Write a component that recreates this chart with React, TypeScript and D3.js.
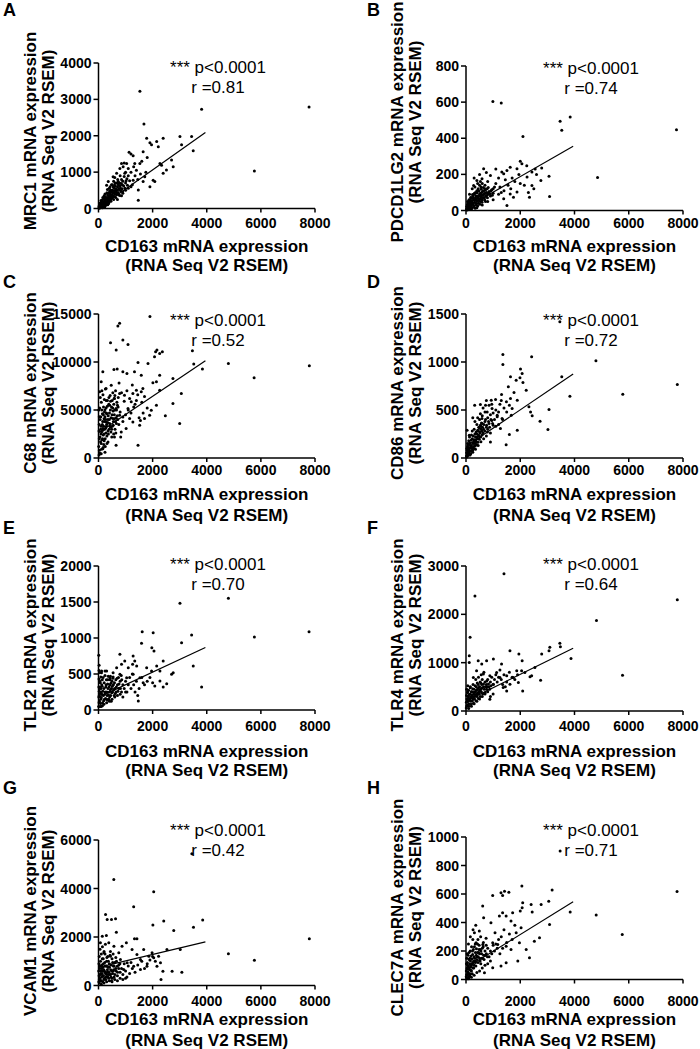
import * as d3 from "d3";

type Pt = [number, number];

// CD163 (x) vs. marker gene (y)
const panelLetters = ["A", "B", "C", "D", "E", "F", "G", "H"];
const geneNames = ["MRC1", "PDCD1LG2", "C68", "CD86", "TLR2", "TLR4", "VCAM1", "CLEC7A"];
const rValues = ["0.81", "0.74", "0.52", "0.72", "0.70", "0.64", "0.42", "0.71"];
const pText = "*** p<0.0001";

const xTicks = [0, 2000, 4000, 6000, 8000];
const yTicksA = [0, 1000, 2000, 3000, 4000];
const yTicksB = [0, 200, 400, 600, 800];
const yTicksC = [0, 5000, 10000, 15000];
const yTicksD = [0, 500, 1000, 1500];
const yTicksE = [0, 500, 1000, 1500, 2000];
const yTicksF = [0, 1000, 2000, 3000];
const yTicksG = [0, 2000, 4000, 6000];
const yTicksH = [0, 200, 400, 600, 800, 1000];

// regression line end points [x0, y0, x1, y1]
const fitA = [0, 10, 3950, 2090];
const fitB = [0, 15, 3950, 356];
const fitC = [0, 2620, 3950, 10120];
const fitD = [0, 120, 3950, 874];
const fitE = [0, 175, 3950, 867];
const fitF = [0, 205, 3950, 1300];
const fitG = [0, 750, 3950, 1800];
const fitH = [0, 80, 3950, 545];

const mrc1Points: Pt[] = [
  [1530, 3220], [3810, 2730], [7780, 2790], [1680, 2320], [5760, 1030], [3440, 1980], [3010, 1980],
  [3070, 1750], [3500, 1590], [2390, 1930], [1780, 1930], [1960, 1750], [2150, 1840], [1900, 1810],
  [2210, 1700], [1130, 1545], [1200, 1500], [1280, 1450], [1650, 1560], [1530, 1240], [1340, 1240],
  [2270, 1240], [2330, 1190], [2390, 970], [2510, 1060], [2700, 1330], [2760, 1150], [2020, 780],
  [1900, 600], [2080, 740], [1710, 870], [1650, 740], [1470, 230], [1470, 510], [1280, 780], [1040, 1240],
  [910, 1150], [790, 1100], [850, 1240], [970, 970], [670, 970], [540, 870], [730, 740], [300, 640],
  [360, 740], [50, 30], [80, 60], [100, 100], [120, 50], [150, 120], [180, 90], [200, 150], [220, 200],
  [250, 130], [270, 250], [300, 180], [320, 300], [350, 220], [380, 350], [400, 280], [420, 400],
  [450, 320], [480, 450], [500, 380], [520, 500], [550, 420], [580, 560], [600, 480], [620, 620],
  [650, 520], [680, 400], [700, 600], [720, 680], [750, 550], [780, 700], [800, 620], [820, 480],
  [850, 800], [880, 650], [900, 750], [950, 880], [1000, 700], [1050, 820], [1100, 900], [1150, 760],
  [1200, 1000], [160, 300], [240, 400], [330, 520], [430, 600], [260, 80], [380, 150], [460, 200],
  [560, 250], [640, 300], [740, 380], [900, 420], [1000, 500], [1100, 560], [130, 200], [60, 150],
  [90, 220], [210, 350], [310, 430], [410, 480], [510, 650], [610, 700], [710, 800], [30, 80], [140, 20],
  [230, 40], [340, 100], [700, 250], [850, 350], [1250, 650], [1350, 900], [1400, 1050], [1300, 1150],
  [1600, 1300], [1800, 1400], [1750, 1000], [1550, 950], [1450, 800], [1200, 600], [1100, 1100],
  [1000, 1000], [950, 1250], [800, 900], [600, 850], [480, 650], [400, 560], [560, 750],
];
const mrc1Cluster: Pt[] = [
  [15, 40], [35, 10], [45, 90], [65, 25], [75, 130], [95, 45], [105, 170], [115, 85], [135, 60], [145, 240],
  [165, 110], [175, 35], [190, 180], [205, 70], [215, 260], [235, 150], [245, 320], [265, 190], [285, 110],
  [295, 290], [315, 160], [335, 370], [345, 240], [365, 130], [375, 280], [395, 430], [405, 200], [425, 330],
  [445, 250], [455, 510], [475, 370], [495, 290], [505, 470], [525, 350], [545, 590], [565, 440], [585, 330],
  [595, 640], [615, 390], [635, 540], [655, 460], [675, 700], [695, 510], [725, 440], [745, 640], [765, 520],
  [785, 360], [810, 560], [835, 690], [870, 540], [890, 460], [930, 620], [980, 560], [1020, 760], [1070, 640],
];

const pdcd1lg2Points: Pt[] = [
  [990, 604], [1300, 595], [3470, 494], [3840, 518], [3530, 444], [7760, 447], [2100, 410], [4850, 183],
  [3080, 78], [2340, 74], [2430, 139], [2760, 166], [2790, 235], [3060, 190], [2060, 259], [2000, 272],
  [2240, 248], [2430, 213], [1880, 231], [1510, 222], [1630, 240], [1390, 203], [1320, 213], [900, 194],
  [650, 231], [590, 176], [400, 166], [280, 139], [1510, 28], [1390, 65], [1630, 92], [1880, 102],
  [1750, 74], [2250, 185], [2000, 150], [2600, 200], [1700, 180], [1450, 170], [1200, 180], [1100, 150],
  [800, 160], [700, 120], [1250, 130], [1550, 140], [1800, 160], [2150, 140], [2500, 120], [2300, 100],
  [1950, 200], [1650, 120], [1400, 110], [1000, 120], [850, 100], [2550, 230], [1100, 230], [750, 210],
  [500, 200], [300, 180], [50, 10], [80, 20], [100, 5], [120, 30], [150, 15], [180, 40], [200, 25],
  [220, 50], [250, 35], [280, 60], [300, 20], [320, 45], [350, 70], [380, 30], [400, 55], [420, 80],
  [450, 40], [480, 65], [500, 90], [520, 50], [550, 75], [580, 100], [600, 60], [620, 85], [650, 110],
  [680, 70], [700, 95], [720, 50], [750, 80], [780, 120], [800, 90], [850, 105], [900, 80], [950, 115],
  [1000, 95], [1050, 130], [150, 60], [250, 80], [350, 100], [450, 120], [550, 130], [100, 40], [200, 70],
  [300, 90], [400, 110], [500, 140], [600, 150], [700, 140], [200, 5], [400, 15], [600, 30], [800, 50],
  [1000, 60], [1200, 90], [1300, 100], [60, 50], [130, 90], [230, 120], [330, 130], [430, 150], [530, 160],
];
const pdcd1lg2Cluster: Pt[] = [
  [15, 8], [25, 22], [40, 3], [55, 35], [70, 12], [85, 45], [95, 28], [110, 60], [125, 18], [135, 48],
  [160, 8], [170, 72], [190, 30], [210, 55], [230, 15], [240, 88], [260, 42], [270, 68], [290, 28], [310, 95],
  [330, 58], [340, 12], [360, 82], [370, 40], [390, 65], [410, 98], [430, 25], [440, 72], [460, 55], [470, 108],
  [490, 80], [510, 35], [530, 95], [540, 62], [560, 118], [570, 85], [590, 45], [610, 105], [630, 72],
  [640, 128], [660, 90], [690, 58], [710, 112], [730, 82], [760, 100], [790, 70], [820, 128], [870, 92],
  [920, 110], [970, 84],
];

const c68Points: Pt[] = [
  [1900, 14750], [780, 14030], [716, 13750], [900, 12290], [1090, 11830], [444, 12010], [654, 11240],
  [2110, 11070], [2360, 11070], [2260, 10890], [2160, 11240], [3470, 11170], [3520, 9780], [3840, 9260],
  [4800, 9850], [5750, 8350], [7790, 9610], [1460, 9950], [1830, 9850], [2070, 10550], [160, 8980],
  [570, 9220], [690, 9260], [900, 8980], [1050, 8810], [1330, 8980], [1580, 8630], [2750, 8280],
  [2260, 8630], [2140, 7940], [2010, 7830], [2260, 7070], [1580, 6890], [1640, 7240], [3060, 6720],
  [2750, 5670], [2470, 4390], [3000, 3590], [1950, 4980], [1700, 4110], [1520, 3410], [1890, 4460],
  [1460, 1320], [650, 1320], [2140, 5500], [100, 7940], [40, 6890], [280, 7240], [470, 7590], [590, 6200],
  [780, 6720], [960, 6540], [1210, 5850], [1270, 6720], [1400, 7070], [1090, 5150], [780, 4460],
  [530, 4110], [280, 3760], [160, 3060], [220, 4800], [410, 5500], [650, 5150], [900, 4280], [1150, 4110],
  [1270, 3760], [1020, 3060], [840, 2710], [590, 2190], [350, 1670], [160, 970], [100, 450], [50, 500],
  [100, 1500], [80, 3000], [150, 2000], [200, 2500], [250, 1200], [300, 3500], [350, 2800], [400, 4000],
  [450, 3200], [500, 4500], [550, 3800], [600, 5000], [650, 4200], [700, 5500], [750, 3500], [800, 4800],
  [30, 2000], [60, 4000], [120, 5000], [180, 4500], [220, 3800], [280, 5200], [330, 6000], [380, 5600],
  [430, 6500], [480, 5300], [530, 6800], [580, 6200], [630, 7000], [680, 5800], [730, 6300], [160, 2900],
  [210, 1800], [260, 3100], [310, 2300], [360, 4400], [410, 3600], [460, 2700], [510, 3300], [560, 2500],
  [610, 3000], [660, 3600], [710, 4000], [110, 900], [170, 1100], [240, 600], [20, 300], [90, 2500],
  [140, 3500], [190, 3300], [240, 4300], [290, 4700], [340, 3700], [390, 3000], [440, 5000], [490, 2200],
  [540, 4900], [590, 4100], [640, 2600], [900, 3800], [1000, 4500], [1100, 5000], [1200, 4700],
  [1300, 5300], [1400, 6000], [1500, 4200], [1600, 5800], [1700, 6400], [1800, 5200], [950, 5900],
  [1050, 7000], [1150, 6200], [1250, 7600], [1350, 5600], [1450, 6600], [1550, 3900], [1650, 4700],
  [850, 6800], [760, 7800], [820, 2200],
];
const c68Cluster: Pt[] = [
  [10, 1200], [25, 3500], [35, 800], [45, 5200], [55, 2200], [65, 6300], [75, 1700], [85, 4300], [95, 3300],
  [105, 5800], [115, 2700], [125, 7000], [135, 1900], [145, 4600], [155, 3800], [165, 6600], [175, 2400],
  [185, 5300], [195, 1400], [205, 4100], [215, 6100], [225, 3000], [235, 5000], [245, 2000], [255, 7200],
  [265, 4000], [275, 2600], [285, 6000], [295, 3300], [305, 4600], [315, 1500], [325, 5400], [345, 4000],
  [365, 2500], [385, 6300], [405, 4700], [425, 3300], [445, 5900], [465, 4200], [485, 3000], [505, 6000],
  [525, 5200], [545, 3400], [565, 5600], [585, 4500], [605, 6500], [625, 3800], [665, 5000], [695, 4400],
  [725, 5300], [12, 5000], [18, 2800], [28, 4300],
];

const cd86Points: Pt[] = [
  [1360, 1079], [1360, 975], [2420, 1055], [4790, 1013], [5780, 665], [7790, 766], [3830, 644],
  [3530, 846], [3460, 1420], [3060, 505], [3020, 296], [2730, 383], [2010, 926], [2070, 880], [1990, 835],
  [2100, 787], [2220, 707], [2320, 533], [2440, 439], [2380, 480], [1640, 846], [1850, 811], [1560, 741],
  [1770, 682], [1890, 602], [1640, 620], [1490, 585], [1700, 515], [1670, 445], [1600, 244], [1480, 139],
  [1890, 289], [1310, 661], [1090, 609], [930, 602], [720, 550], [530, 557], [320, 550], [250, 418],
  [590, 411], [780, 480], [960, 515], [1150, 445], [1330, 411], [1270, 306], [900, 167], [40, 289],
  [120, 237], [50, 30], [80, 60], [100, 90], [120, 40], [150, 110], [180, 70], [200, 130], [220, 100],
  [250, 160], [280, 120], [300, 190], [320, 150], [350, 220], [380, 170], [400, 250], [420, 200],
  [450, 280], [480, 230], [500, 310], [520, 260], [550, 330], [580, 280], [600, 360], [650, 300],
  [700, 380], [750, 320], [800, 420], [850, 360], [900, 450], [950, 390], [1000, 470], [1050, 400],
  [1100, 500], [1150, 430], [1200, 480], [100, 180], [200, 240], [300, 300], [400, 350], [500, 400],
  [600, 440], [700, 480], [800, 300], [900, 260], [1000, 340], [150, 30], [250, 60], [350, 90], [450, 130],
  [550, 170], [650, 200], [750, 230], [30, 100], [60, 150], [130, 220], [230, 280], [330, 380], [430, 420],
  [530, 460], [630, 520], [1250, 560], [1300, 600], [1400, 520], [1500, 480], [1600, 550], [1350, 400],
  [1200, 350], [1100, 330], [850, 550], [950, 560], [750, 600],
];
const cd86Cluster: Pt[] = [
  [15, 20], [25, 55], [35, 10], [45, 80], [55, 40], [65, 115], [75, 25], [85, 70], [95, 140], [105, 50],
  [115, 100], [135, 160], [145, 75], [165, 130], [175, 45], [190, 185], [210, 110], [230, 200], [240, 80],
  [260, 150], [270, 230], [290, 100], [310, 170], [330, 250], [340, 125], [360, 190], [370, 270], [390, 140],
  [410, 220], [430, 290], [440, 165], [460, 240], [470, 320], [490, 195], [510, 270], [530, 340], [540, 220],
  [560, 300], [570, 365], [590, 240], [610, 320], [630, 260], [660, 350], [690, 280], [720, 400], [760, 340],
  [790, 270], [830, 380], [870, 320], [920, 400], [980, 360],
];

const tlr2Points: Pt[] = [
  [10, 759], [3010, 1481], [4800, 1551], [5760, 1014], [7780, 1088], [3440, 1042], [3070, 935],
  [3500, 611], [3810, 319], [1615, 1088], [2020, 1074], [1590, 926], [1970, 866], [2050, 819], [790, 773],
  [1280, 750], [1260, 634], [1410, 611], [1340, 681], [2700, 495], [2760, 519], [2390, 681], [2150, 611],
  [2270, 542], [2270, 403], [2390, 319], [2080, 333], [2520, 366], [1960, 542], [1780, 588], [970, 681],
  [1100, 588], [850, 634], [670, 588], [540, 519], [300, 542], [110, 519], [420, 449], [790, 495],
  [1040, 449], [1280, 495], [1530, 449], [1650, 380], [1470, 125], [20, 100], [30, 200], [40, 300],
  [50, 400], [20, 550], [60, 50], [80, 150], [100, 250], [120, 350], [150, 100], [180, 200], [200, 300],
  [220, 150], [250, 250], [280, 350], [300, 100], [320, 200], [350, 300], [380, 150], [400, 250],
  [420, 350], [450, 200], [480, 300], [500, 400], [520, 250], [550, 350], [580, 200], [600, 300],
  [650, 250], [700, 350], [750, 300], [800, 400], [850, 250], [900, 350], [950, 300], [1000, 400],
  [1050, 250], [1100, 350], [1150, 450], [1200, 300], [100, 50], [200, 80], [300, 150], [400, 120],
  [500, 150], [600, 180], [700, 200], [800, 220], [900, 180], [1000, 250], [60, 320], [140, 420],
  [240, 480], [340, 420], [440, 470], [540, 460], [640, 420], [740, 450], [840, 480], [1300, 350],
  [1400, 400], [1500, 300], [1600, 450], [1700, 350], [1800, 400], [1250, 500], [1350, 250], [1450, 200],
  [1900, 450], [2000, 380],
];
const tlr2Cluster: Pt[] = [
  [8, 50], [12, 180], [15, 320], [18, 430], [22, 620], [28, 260], [35, 120], [45, 520], [55, 230], [65, 380],
  [75, 90], [85, 460], [95, 300], [105, 170], [115, 540], [125, 220], [135, 330], [145, 60], [160, 260],
  [170, 450], [190, 130], [210, 380], [230, 220], [240, 540], [260, 160], [270, 320], [290, 420], [310, 250],
  [330, 140], [340, 360], [360, 470], [370, 210], [390, 320], [410, 180], [430, 420], [440, 280], [460, 370],
  [470, 120], [490, 240], [510, 330], [530, 440], [560, 280], [590, 380], [620, 230], [660, 320], [690, 440],
  [720, 260], [760, 360], [810, 300], [860, 420],
];

const tlr4Points: Pt[] = [
  [1400, 2841], [330, 2377], [150, 1525], [120, 1143], [120, 1005], [4810, 1871], [7790, 2300],
  [5770, 741], [3870, 1088], [3460, 1400], [3480, 1331], [3090, 1317], [3060, 1247], [2790, 1178],
  [2750, 638], [2540, 901], [2420, 728], [2360, 707], [1950, 1178], [2070, 1040], [1620, 1247],
  [1310, 970], [1010, 1074], [760, 1040], [450, 1040], [580, 970], [2050, 832], [2170, 797], [1870, 832],
  [1740, 693], [1930, 589], [2090, 416], [1620, 554], [1500, 728], [1130, 797], [1010, 554], [1370, 485],
  [880, 243], [390, 832], [270, 693], [640, 763], [880, 728], [1250, 693], [1500, 416], [30, 100],
  [50, 200], [80, 300], [100, 150], [120, 250], [150, 350], [180, 200], [200, 300], [220, 400], [250, 250],
  [280, 350], [300, 450], [320, 300], [350, 400], [380, 500], [400, 350], [420, 450], [450, 550],
  [480, 400], [500, 500], [520, 600], [550, 450], [580, 550], [600, 650], [650, 500], [700, 600],
  [750, 550], [800, 650], [850, 500], [900, 600], [950, 700], [1000, 550], [1050, 650], [1100, 750],
  [1150, 600], [1200, 700], [100, 50], [200, 100], [300, 150], [400, 200], [500, 250], [600, 300],
  [700, 350], [800, 400], [900, 300], [1000, 350], [60, 400], [160, 500], [260, 550], [360, 650],
  [460, 700], [560, 750], [660, 800], [760, 450], [1300, 650], [1400, 750], [1500, 600], [1600, 800],
  [1700, 700], [1800, 650], [1250, 850], [1350, 550], [1450, 500], [1900, 750],
];
const tlr4Cluster: Pt[] = [
  [10, 60], [15, 180], [20, 320], [25, 450], [35, 250], [45, 120], [55, 380], [65, 520], [75, 200], [85, 300],
  [95, 430], [110, 100], [125, 340], [140, 220], [155, 480], [170, 280], [185, 140], [195, 400], [215, 330],
  [235, 210], [245, 460], [265, 300], [275, 160], [295, 390], [315, 250], [335, 520], [345, 340], [365, 210],
  [385, 430], [405, 300], [415, 580], [435, 380], [455, 260], [465, 480], [485, 350], [505, 430], [525, 300],
  [545, 580], [565, 400], [595, 480], [615, 350], [645, 560], [675, 450], [705, 380], [735, 500], [765, 620],
  [795, 500], [830, 560], [870, 450], [920, 520],
];

const vcam1Points: Pt[] = [
  [565, 4374], [2040, 3865], [1300, 3246], [2010, 2490], [2410, 2655], [2780, 2270], [3510, 2407],
  [3850, 2696], [7790, 1926], [4800, 1307], [5760, 1045], [3450, 5430], [260, 2930], [320, 2724],
  [480, 2724], [630, 2751], [660, 2200], [290, 2063], [1030, 1761], [1330, 1926], [1420, 1926],
  [870, 1623], [750, 1348], [1240, 1486], [1420, 1279], [1550, 1073], [1670, 1486], [1860, 1210],
  [2040, 1142], [2220, 1210], [2530, 1486], [2290, 935], [1980, 1348], [2160, 798], [2380, 591],
  [2720, 591], [3080, 550], [2310, 248], [3020, 1486], [140, 2036], [70, 1761], [200, 1348], [380, 1761],
  [570, 1623], [810, 1073], [1060, 935], [1300, 798], [1550, 660], [1790, 798], [440, 1210], [690, 798],
  [930, 660], [30, 100], [50, 300], [80, 500], [100, 200], [120, 700], [150, 400], [180, 900], [200, 250],
  [220, 600], [250, 800], [280, 350], [300, 1000], [320, 550], [350, 750], [380, 300], [400, 900],
  [420, 450], [450, 650], [480, 200], [500, 1100], [520, 500], [550, 800], [580, 350], [600, 950],
  [650, 600], [700, 400], [750, 850], [800, 550], [850, 700], [900, 450], [950, 900], [1000, 600],
  [1050, 350], [1100, 800], [1150, 500], [1200, 950], [60, 800], [140, 1100], [240, 1300], [340, 1200],
  [440, 1400], [540, 1300], [640, 1150], [100, 50], [200, 100], [300, 150], [400, 200], [500, 150],
  [600, 250], [700, 200], [800, 300], [900, 250], [1000, 300], [1250, 700], [1350, 550], [1450, 850],
  [1600, 1000], [1700, 700], [1800, 900], [1900, 1050], [2000, 1200], [2100, 1000], [160, 600],
  [260, 500], [360, 450], [460, 350], [560, 650],
];
const vcam1Cluster: Pt[] = [
  [8, 600], [12, 150], [18, 900], [22, 400], [28, 1200], [35, 250], [45, 700], [55, 1500], [65, 450],
  [75, 1000], [85, 200], [95, 600], [105, 1300], [115, 350], [125, 850], [135, 500], [145, 1600], [155, 150],
  [165, 750], [175, 1100], [185, 400], [195, 650], [205, 1400], [215, 300], [230, 950], [245, 550],
  [255, 1700], [270, 250], [285, 800], [295, 450], [310, 1150], [330, 650], [345, 350], [365, 1000],
  [385, 550], [405, 750], [425, 1250], [445, 450], [465, 850], [485, 600], [505, 300], [525, 950], [545, 600],
  [575, 800], [605, 450], [635, 700], [665, 1000], [705, 550], [745, 700], [790, 900],
];

const clec7aPoints: Pt[] = [
  [3470, 902], [1350, 590], [1580, 613], [2060, 656], [3175, 628], [7780, 618], [2090, 539], [2070, 504],
  [2000, 480], [3050, 550], [2400, 527], [2770, 527], [2440, 473], [3840, 473], [4800, 452], [5760, 316],
  [3080, 386], [985, 590], [1290, 609], [1420, 620], [615, 515], [650, 433], [920, 398], [1070, 328],
  [1230, 445], [1350, 468], [1480, 445], [1660, 410], [1720, 468], [1850, 328], [2030, 363], [2220, 211],
  [2340, 152], [1910, 129], [1970, 258], [2710, 293], [2520, 269], [310, 328], [250, 281], [490, 340],
  [370, 258], [620, 246], [985, 258], [1170, 246], [1480, 234], [1660, 211], [1480, 117], [1290, 94],
  [985, 82], [680, 47], [30, 10], [50, 30], [80, 50], [100, 20], [120, 70], [150, 40], [180, 90], [200, 60],
  [220, 110], [250, 80], [280, 130], [300, 100], [320, 150], [350, 120], [380, 170], [400, 140],
  [420, 190], [450, 160], [480, 210], [500, 180], [520, 130], [550, 200], [580, 150], [600, 220],
  [650, 170], [700, 200], [750, 180], [800, 220], [850, 160], [900, 200], [950, 180], [1000, 240],
  [1050, 200], [1100, 250], [1150, 220], [1200, 280], [60, 100], [140, 150], [240, 200], [340, 250],
  [440, 280], [540, 300], [640, 260], [740, 290], [100, 5], [200, 15], [300, 30], [400, 50], [500, 60],
  [600, 80], [700, 100], [800, 110], [900, 130], [1300, 300], [1400, 350], [1500, 260], [1600, 320],
  [1700, 280], [1800, 380], [1250, 180], [1350, 220], [40, 180], [90, 250], [160, 300], [260, 350],
  [360, 380],
];
const clec7aCluster: Pt[] = [
  [8, 20], [12, 60], [18, 110], [22, 35], [28, 150], [35, 75], [45, 5], [55, 120], [65, 55], [75, 170],
  [85, 90], [95, 40], [105, 140], [115, 190], [125, 80], [135, 110], [145, 25], [155, 200], [165, 130],
  [175, 65], [185, 165], [195, 100], [205, 230], [215, 145], [230, 40], [245, 175], [255, 120], [270, 210],
  [285, 80], [295, 160], [310, 230], [330, 130], [345, 190], [365, 95], [385, 215], [405, 160], [425, 250],
  [445, 120], [465, 190], [485, 240], [505, 150], [525, 210], [545, 110], [575, 180], [605, 150], [635, 230],
  [665, 140], [705, 170], [745, 240], [790, 160],
];

const pointSets = [
  [...mrc1Points, ...mrc1Cluster],
  [...pdcd1lg2Points, ...pdcd1lg2Cluster],
  [...c68Points, ...c68Cluster],
  [...cd86Points, ...cd86Cluster],
  [...tlr2Points, ...tlr2Cluster],
  [...tlr4Points, ...tlr4Cluster],
  [...vcam1Points, ...vcam1Cluster],
  [...clec7aPoints, ...clec7aCluster],
];
const yTickSets = [yTicksA, yTicksB, yTicksC, yTicksD, yTicksE, yTicksF, yTicksG, yTicksH];
const fitSets = [fitA, fitB, fitC, fitD, fitE, fitF, fitG, fitH];

// page layout (pixels)
const colLeft = [98.5, 466];
const colRight = [315, 683];
const colStatX = [218, 591];
const colLetterX = [3, 367];
const colYLabelX = [36, 53.5];
const rowTickY = [227.5, 475, 731, 1006];
const rowXLabelY = [[251.5, 271], [500, 521], [757, 776], [1025, 1046]];
const rowLetterY = [16, 288, 534, 794];
const panelTop = [63, 66, 314, 314, 566, 566, 840, 837];
const panelBottom = [208.5, 210.5, 458, 458, 710, 711, 985.5, 979.5];
const labelCy = [131, 122, 383, 383, 635, 635, 911, 907.5];
const statY = [73, 74, 326, 326, 570, 570, 836, 836];

const font = "'Liberation Sans', Arial, Helvetica, sans-serif";

function Panel({ i }: { i: number }) {
  const col = i % 2;
  const row = Math.floor(i / 2);
  const left = colLeft[col];
  const right = colRight[col];
  const top = panelTop[i];
  const bottom = panelBottom[i];
  const yTicks = yTickSets[i];
  const yMax = yTicks[yTicks.length - 1];

  const x = d3.scaleLinear([0, 8000], [left, right]);
  const y = d3.scaleLinear([0, yMax], [bottom, top]);
  const [fx0, fy0, fx1, fy1] = fitSets[i];
  const fit = d3.line<Pt>()
    .x((d) => x(d[0]))
    .y((d) => y(d[1]))([[fx0, fy0], [fx1, fy1]]);

  const offset = col * 367;
  const cy = labelCy[i];

  return (
    <g>
      <text x={colLetterX[col]} y={rowLetterY[row]} fontSize={18} fontWeight="bold">
        {panelLetters[i]}
      </text>

      {/* points */}
      <g fill="#000">
        {pointSets[i].map((p, k) => (
          <circle key={k} cx={x(p[0])} cy={y(p[1])} r={1.5} />
        ))}
      </g>
      <path d={fit ?? ""} stroke="#000" strokeWidth={1.2} fill="none" />

      {/* axes */}
      <g stroke="#000" strokeWidth={1.5} fill="none">
        <line x1={left} x2={left} y1={top} y2={bottom} />
        <line x1={left} x2={right} y1={bottom} y2={bottom} />
        {yTicks.map((t) => (
          <line key={t} x1={left - 5} x2={left} y1={y(t)} y2={y(t)} />
        ))}
        {xTicks.map((t) => (
          <line key={t} x1={x(t)} x2={x(t)} y1={bottom} y2={bottom + 4} />
        ))}
      </g>
      <g fontSize={14} fontWeight="bold">
        {yTicks.map((t) => (
          <text key={t} x={left - 7} y={y(t) + 5} textAnchor="end">
            {t}
          </text>
        ))}
        {xTicks.map((t) => (
          <text key={t} x={x(t)} y={rowTickY[row]} textAnchor="middle">
            {t}
          </text>
        ))}
      </g>

      {/* axis titles */}
      <g fontSize={17} fontWeight="bold" textAnchor="middle">
        <text x={(left + right) / 2} y={rowXLabelY[row][0]}>CD163 mRNA expression</text>
        <text x={(left + right) / 2} y={rowXLabelY[row][1]}>(RNA Seq V2 RSEM)</text>
        <text transform={`translate(${colYLabelX[0] + offset},${cy}) rotate(-90)`}>
          {geneNames[i]} mRNA expression
        </text>
        <text transform={`translate(${colYLabelX[1] + offset},${cy}) rotate(-90)`}>
          (RNA Seq V2 RSEM)
        </text>
      </g>

      {/* statistics */}
      <g fontSize={17} textAnchor="middle">
        <text x={colStatX[col]} y={statY[i]}>{pText}</text>
        <text x={colStatX[col]} y={statY[i] + 20}>r ={rValues[i]}</text>
      </g>
    </g>
  );
}

export default function App() {
  return (
    <svg
      width={700}
      height={1049}
      style={{ position: "absolute", left: 0, top: 0, background: "#fff" }}
      fontFamily={font}
    >
      <rect width={700} height={1049} fill="#fff" />
      {panelLetters.map((_, i) => (
        <Panel key={i} i={i} />
      ))}
    </svg>
  );
}
